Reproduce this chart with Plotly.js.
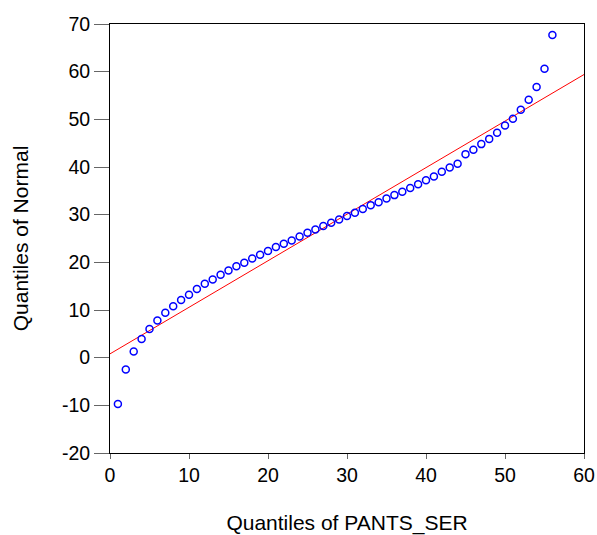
<!DOCTYPE html>
<html>
<head>
<meta charset="utf-8">
<script src="https://cdn.plot.ly/plotly-3.0.1.min.js"></script>
<style>
html,body{margin:0;padding:0;background:#fff;}
#chart{width:597px;height:535px;}
</style>
</head>
<body>
<div id="chart"></div>
<script>
// Quantiles of PANTS_SER (x) vs quantiles of Normal (y)
const sampleQuantiles = [1,2,3,4,5,6,7,8,9,10,11,12,13,14,15,16,17,18,19,20,21,22,23,24,25,26,27,28,29,30,31,32,33,34,35,36,37,38,39,40,41,42,43,44,45,46,47,48,49,50,51,52,53,54,55,56];
const normalQuantiles = [-9.7,-2.5,1.3,3.9,6.0,7.8,9.4,10.8,12.1,13.2,14.4,15.5,16.4,17.4,18.3,19.2,19.9,20.8,21.6,22.4,23.2,23.9,24.6,25.4,26.2,26.9,27.6,28.3,29.0,29.7,30.4,31.2,32.0,32.6,33.4,34.1,34.8,35.6,36.4,37.2,38.0,39.0,39.9,40.7,42.7,43.6,44.8,45.9,47.2,48.7,50.1,52.0,54.1,56.8,60.6,67.7];
const refLineX = [0, 60];
const refLineY = [0.8, 59.4];
const xTicks = [0,10,20,30,40,50,60];
const yTicks = [-20,-10,0,10,20,30,40,50,60,70];

const tickFont = {family: 'Liberation Sans, Arial, sans-serif', size: 19.5, color: '#000'};
const titleFont = {family: 'Liberation Sans, Arial, sans-serif', size: 21, color: '#000'};

const traces = [
  {
    x: refLineX, y: refLineY, mode: 'lines', type: 'scatter',
    line: {color: '#ff0000', width: 1}, hoverinfo: 'skip', showlegend: false
  },
  {
    x: sampleQuantiles, y: normalQuantiles, mode: 'markers', type: 'scatter',
    marker: {symbol: 'circle-open', size: 7, color: '#0000ff', line: {width: 1.5, color: '#0000ff'}},
    showlegend: false
  }
];

const layout = {
  width: 597, height: 535,
  margin: {l: 110, r: 13, t: 24, b: 82},
  paper_bgcolor: '#fff', plot_bgcolor: '#fff',
  font: tickFont,
  xaxis: {
    range: [0, 60], tickvals: xTicks, ticktext: xTicks.map(String),
    showgrid: false, zeroline: false,
    showline: true, mirror: true, linecolor: '#000', linewidth: 1,
    ticks: 'outside', ticklen: 5, tickcolor: '#666', tickwidth: 1,
    tickfont: tickFont,
    title: {text: 'Quantiles of PANTS_SER', font: titleFont, standoff: 30}
  },
  yaxis: {
    range: [-20, 70], tickvals: yTicks, ticktext: yTicks.map(String),
    showgrid: false, zeroline: false,
    showline: true, mirror: true, linecolor: '#000', linewidth: 1,
    ticks: 'outside', ticklen: 15, tickcolor: '#666', tickwidth: 1,
    tickfont: tickFont,
    title: {text: 'Quantiles of Normal', font: titleFont, standoff: 27}
  }
};

Plotly.newPlot('chart', traces, layout, {displayModeBar: false, staticPlot: true});
</script>
</body>
</html>
